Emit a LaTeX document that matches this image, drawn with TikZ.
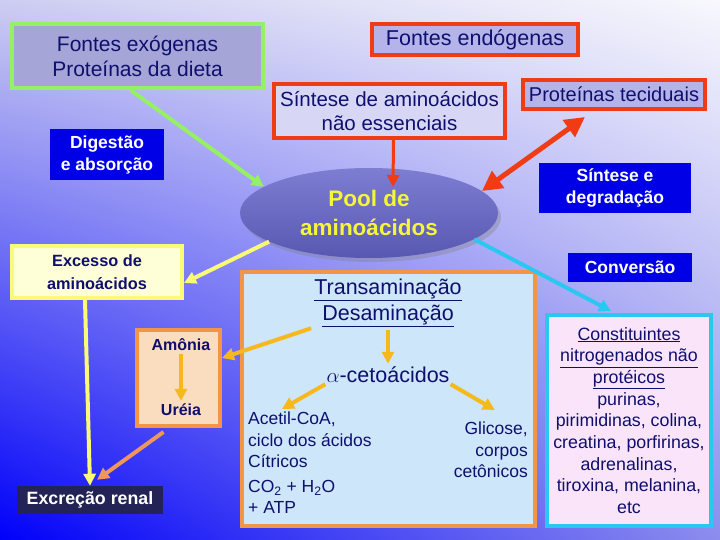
\documentclass[tikz,border=0pt]{standalone}
\usepackage{fontspec}
\setmainfont{Liberation Sans}
\usetikzlibrary{arrows.meta,calc,shapes.geometric,shadows,shadings}
\definecolor{tinta}{RGB}{15,15,110}
\definecolor{verdeclaro}{RGB}{150,240,100}
\definecolor{rojo}{RGB}{240,60,20}
\definecolor{lilaoscuro}{RGB}{165,165,215}
\definecolor{lila}{RGB}{180,180,235}
\definecolor{lilaclaro}{RGB}{215,215,245}
\definecolor{azulfuerte}{RGB}{0,0,230}
\definecolor{marino}{RGB}{35,35,85}
\definecolor{amarillo}{RGB}{250,250,120}
\definecolor{crema}{RGB}{255,255,215}
\definecolor{laranja}{RGB}{240,150,70}
\definecolor{durazno}{RGB}{250,220,190}
\definecolor{celeste}{RGB}{205,230,250}
\definecolor{cian}{RGB}{40,200,240}
\definecolor{rosa}{RGB}{250,228,250}
\definecolor{oro}{RGB}{245,185,30}
\definecolor{salmon}{RGB}{240,150,90}
\definecolor{poolclaro}{RGB}{125,125,210}
\definecolor{pooloscuro}{RGB}{88,88,178}
\definecolor{amarillopool}{RGB}{245,245,60}
\definecolor{fondoA}{RGB}{205,205,242}
\definecolor{fondoB}{RGB}{248,248,253}
\definecolor{fondoC}{RGB}{0,0,250}
\definecolor{fondoD}{RGB}{140,140,238}
\tikzset{
  fuente/.style={
    draw=rojo,
    line width=4pt,
    fill=lila,
    text=tinta,
    align=center,
    inner sep=2pt,
    font=\fontsize{20.5}{24}\selectfont
  },
  rotulo/.style={
    fill=azulfuerte,
    text=white,
    align=center,
    inner sep=3pt,
    font=\bfseries\fontsize{17.5}{22}\selectfont
  },
  marco/.style={
    line width=4pt,
    draw=laranja,
    inner sep=0pt
  },
  texto/.style={
    text=tinta,
    inner sep=1pt,
    font=\fontsize{17.5}{21.5}\selectfont
  },
  flecha/.style={
    -{Triangle[length=12pt,width=12pt]},
    line width=4pt
  }
}

\begin{document}
\begin{tikzpicture}[x=1pt,y=-1pt]
\useasboundingbox (0,0) rectangle (720,540);
\shade[upper left=fondoA, upper right=fondoB, lower left=fondoC, lower right=fondoD] (0,0) rectangle (720,540);

% fuentes
\node[fuente, draw=verdeclaro, fill=lilaoscuro, minimum width=251pt, minimum height=64pt,
  font=\fontsize{21}{25}\selectfont] (exo) at (137.5,56) {Fontes exógenas\\Proteínas da dieta};
\node[fuente, minimum width=206pt, minimum height=31pt, font=\fontsize{21.5}{24}\selectfont] (endo) at (475,39.5) {Fontes endógenas};
\node[fuente, fill=lilaclaro, minimum width=231pt, minimum height=54pt] (sint) at (389.5,111)
  {Síntese de aminoácidos\\não essenciais};
\node[fuente, minimum width=182pt, minimum height=29pt, font=\fontsize{20}{24}\selectfont] (prot) at (614,94.5) {Proteínas teciduais};

\node[rotulo, minimum width=114pt, minimum height=51pt] (dig) at (107,154.5) {Digestão\\e absorção};
\node[rotulo, minimum width=152pt, minimum height=50pt] (sdeg) at (615,188) {Síntese e\\degradação};
\node[rotulo, minimum width=124pt, minimum height=29pt] (conv) at (630,267.5) {Conversão};

% pool
\node[ellipse, top color=poolclaro, bottom color=pooloscuro, minimum width=258pt, minimum height=90pt,
  drop shadow={opacity=0.35, shadow xshift=3pt, shadow yshift=-4pt},
  text=amarillopool, align=center, font=\bfseries\fontsize{22.5}{29}\selectfont] (pool) at (369,213)
  {\raisebox{-3pt}{Pool de}\\\raisebox{-3pt}{aminoácidos}};

\node[draw=amarillo, line width=4pt, fill=crema, minimum width=170pt, minimum height=52pt,
  text=tinta, align=center, font=\bfseries\fontsize{16.3}{23}\selectfont] (exc) at (97,272)
  {Excesso de\\aminoácidos};

% caja de transaminacion
\node[marco, fill=celeste, minimum width=293pt, minimum height=254pt] (caja) at (388.5,399) {};
\node[texto, align=center, font=\fontsize{21.5}{26}\selectfont] (transam) at (388,303)
  {\underline{Transaminação}\\\underline{Desaminação}};
\node[texto, font=\fontsize{21.5}{24}\selectfont] (ceto) at (388,375) {$\alpha$-cetoácidos};
\node[texto, anchor=north west, align=left] (acetil) at (247,411) {Acetil-CoA,\\ciclo dos ácidos\\Cítricos};
\node[texto, anchor=north west, align=left] (co2) at (247,479) {CO\textsubscript{2} + H\textsubscript{2}O\\+ ATP};
\node[texto, anchor=north east, align=right] (glic) at (529,421) {Glicose,\\corpos\\cetônicos};

% amonia
\node[marco, fill=durazno, minimum width=83pt, minimum height=96pt] (urebox) at (178.5,378) {};
\node[texto, font=\bfseries\fontsize{16}{20}\selectfont] (amonia) at (181,345) {Amônia};
\node[texto, font=\bfseries\fontsize{16}{20}\selectfont] (ureia) at (181,410) {Uréia};

\node[fill=marino, text=white, minimum width=146pt, minimum height=28pt, inner sep=2pt,
  font=\bfseries\fontsize{17.8}{20}\selectfont] (excr) at (90,500) {Excreção renal};

% constituintes
\node[draw=cian, line width=4pt, fill=rosa, minimum width=164pt, minimum height=211pt,
  text=tinta, align=center, inner sep=0pt, font=\fontsize{17.8}{21.7}\selectfont] (const) at (629,420.5)
  {\underline{Constituintes}\\\underline{nitrogenados não}\\\underline{protéicos}\\purinas,\\
   pirimidinas, colina,\\creatina, porfirinas,\\adrenalinas,\\tiroxina, melanina,\\etc};

% conectores
\coordinate (entrada) at (393,187);
\draw[flecha, verdeclaro] ([xshift=-7pt]exo.south) -- (pool.166);
\draw[flecha, rojo, line width=3pt] ([xshift=4pt]sint.south) -- (entrada);
\draw[{Triangle[length=20pt,width=20pt]}-{Triangle[length=20pt,width=20pt]}, line width=5pt, rojo]
  (pool.11) -- ([xshift=-29pt,yshift=-6pt]prot.south);
\draw[flecha, amarillo] (pool.196) -- ([yshift=-11pt]exc.east);
\draw[flecha, cian] (pool.346) -- ([xshift=-18pt,yshift=2pt]const.north);
\draw[flecha, amarillo] ([xshift=-12pt]exc.south) -- (excr.north);
\draw[flecha, oro] ([xshift=-2pt]transam.south west) -- ([yshift=20pt]urebox.east);
\draw[flecha, oro, shorten <=2pt, shorten >=2pt] (amonia.south) -- (ureia.north);
\draw[flecha, salmon] ([xshift=-15pt,yshift=-4pt]urebox.south) -- ([xshift=7pt,yshift=6pt]excr.north);
\draw[flecha, oro, shorten <=2pt, shorten >=2pt] (transam.south) -- (ceto.north);
\draw[flecha, oro] (ceto.south west) -- ([xshift=-28pt,yshift=2pt]acetil.north);
\draw[flecha, oro] (ceto.south east) -- ([xshift=4pt,yshift=11pt]glic.north);
\end{tikzpicture}
\end{document}
